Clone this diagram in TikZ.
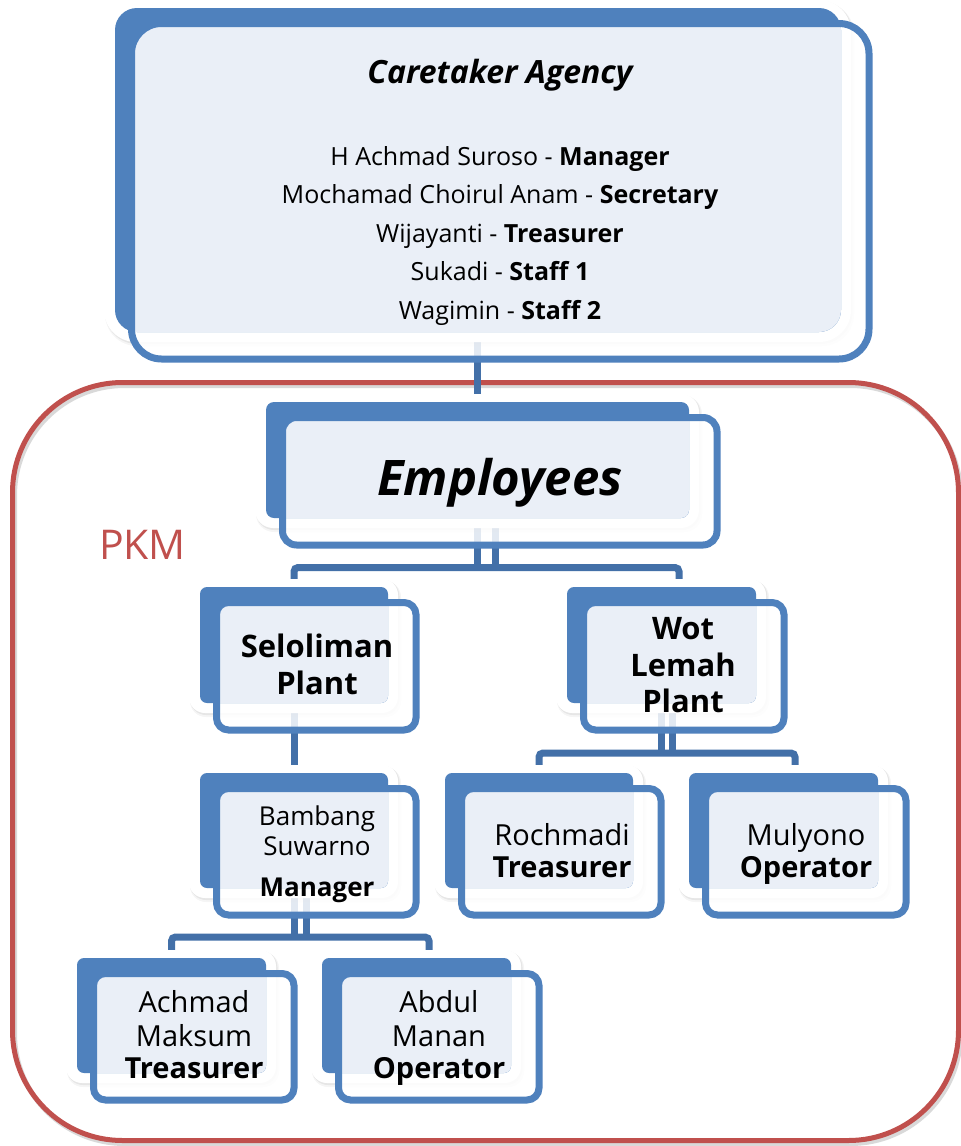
\documentclass[tikz,border=0pt]{standalone}
\usepackage{fontspec}
\setmainfont{Open Sans}
\usetikzlibrary{calc}
\definecolor{boxblue}{RGB}{79,129,189}
\definecolor{lightfill}{RGB}{234,239,247}
\definecolor{connblue}{RGB}{67,112,168}
\definecolor{pkmred}{RGB}{192,80,77}
\pgfdeclarelayer{bg}
\pgfdeclarelayer{conn}
\pgfsetlayers{bg,conn,main}
% #1 name, #2 x1, #3 y1, #4 x2, #5 y2 (back rectangle), #6 back radius, #7 front radius, #8 halo radius
\newcommand{\orgbox}[8]{%
  \fill[black,opacity=0.04,rounded corners=#8pt] (#2-10,#3-6) rectangle (#4+13,#5+14);
  \fill[black,opacity=0.06,rounded corners=#8pt] (#2-10,#3-7) rectangle (#4+11.5,#5+12);
  \fill[white,rounded corners=#8pt] (#2-11,#3-8) rectangle (#4+10,#5+10);
  \fill[white,opacity=0.85,rounded corners=#7pt] (#2+16.5,#3+15.5) rectangle (#4+28,#5+27);
  \fill[boxblue,rounded corners=#6pt] (#2,#3) rectangle (#4,#5);
  \begin{scope}
    \clip[rounded corners=#6pt] (#2,#3) rectangle (#4,#5);
    \fill[lightfill,rounded corners=#7pt] (#2+16.5,#3+15.5) rectangle (#4+28,#5+27);
  \end{scope}
  \draw[boxblue,line width=7pt,rounded corners=#7pt] (#2+16.5,#3+15.5) rectangle (#4+28,#5+27);
  \coordinate (#1-n) at ({(#2+#4)/2},#3-8);
  \coordinate (#1-s) at ({(#2+#4)/2},#5+27);
}
\tikzset{
  txt/.style={inner sep=0pt,anchor=base,text=black},
  conn/.style={draw=connblue,line width=7pt,rounded corners=4pt},
  fmem/.style={font=\fontsize{25}{30}\selectfont},
  fsmall/.style={font=\fontsize{29}{34}\selectfont},
  fsmallb/.style={font=\fontsize{29}{34}\selectfont\bfseries},
  fplant/.style={font=\fontsize{31}{36}\selectfont\bfseries},
  fbam/.style={font=\fontsize{26}{30}\selectfont},
}
\begin{document}
\begin{tikzpicture}[x=1pt,y=-1pt]
\useasboundingbox (0,0) rectangle (961,1146);
% PKM frame
\begin{pgfonlayer}{bg}
  \fill[white] (0,0) rectangle (961,1146);
  \draw[black,opacity=0.15,line width=5pt,rounded corners=110pt] (14.5,385.5) rectangle (960.5,1143.5);
  \draw[pkmred,line width=5pt,rounded corners=110pt] (12.5,382.5) rectangle (958.5,1140.5);
\end{pgfonlayer}
\node[inner sep=0pt,anchor=base,text=pkmred,font=\fontsize{41}{46}\selectfont] (pkm) at (142.5,559) {PKM};

% boxes
\orgbox{care}{115}{8}{841}{332}{22}{30}{32}
\orgbox{emp}{266}{402}{689}{518}{8}{14}{18}
\orgbox{sel}{200}{587}{388}{703}{7}{12}{16}
\orgbox{wot}{567}{587}{756}{703}{7}{12}{16}
\orgbox{bam}{200}{773}{388}{888}{7}{12}{16}
\orgbox{roch}{445}{773}{633}{888}{7}{12}{16}
\orgbox{mul}{689}{773}{878}{888}{7}{12}{16}
\orgbox{ach}{77}{958}{266}{1073}{7}{12}{16}
\orgbox{abd}{322}{958}{511}{1073}{7}{12}{16}

% texts
\node[txt,font=\fontsize{32}{36}\selectfont\bfseries\itshape] (caretitle) at (500,83) {Caretaker Agency};
\node[txt,fmem] (m1) at (500,165) {H Achmad Suroso - \textbf{Manager}};
\node[txt,fmem] (m2) at (500,203.5) {Mochamad Choirul Anam - \textbf{Secretary}};
\node[txt,fmem] (m3) at (500,242) {Wijayanti - \textbf{Treasurer}};
\node[txt,fmem] (m4) at (500,280.5) {Sukadi - \textbf{Staff 1}};
\node[txt,fmem] (m5) at (500,319) {Wagimin - \textbf{Staff 2}};
\node[txt,font=\fontsize{49}{54}\selectfont\bfseries\itshape] (emptxt) at (500,495) {Employees};
\node[txt,fplant] (sel1) at (317,657) {Seloliman};
\node[txt,fplant] (sel2) at (317,694) {Plant};
\node[txt,fplant] (wot1) at (683,639) {Wot};
\node[txt,fplant] (wot2) at (683,676) {Lemah};
\node[txt,fplant] (wot3) at (683,712) {Plant};
\node[txt,fbam] (bam1) at (317,825) {Bambang};
\node[txt,fbam] (bam2) at (317,855) {Suwarno};
\node[txt,fbam,font=\fontsize{26}{30}\selectfont\bfseries] (bam3) at (317,896) {Manager};
\node[txt,fsmall] (roch1) at (562,845) {Rochmadi};
\node[txt,fsmallb] (roch2) at (562,877) {Treasurer};
\node[txt,fsmall] (mul1) at (806,845) {Mulyono};
\node[txt,fsmallb] (mul2) at (806,877) {Operator};
\node[txt,fsmall] (ach1) at (194,1012) {Achmad};
\node[txt,fsmall] (ach2) at (194,1046) {Maksum};
\node[txt,fsmallb] (ach3) at (194,1078) {Treasurer};
\node[txt,fsmall] (abd1) at (439,1012) {Abdul};
\node[txt,fsmall] (abd2) at (439,1046) {Manan};
\node[txt,fsmallb] (abd3) at (439,1078) {Operator};

% connectors
\begin{pgfonlayer}{conn}
  \draw[conn] ($(emp-n |- care-s)+(0,-20)$) -- ($(emp-n)+(0,8)$);
  % employees
  \coordinate (empbar) at ($(emp-s)+(0,22.5)$);
  \draw[conn] ($(emp-n |- emp-s)+(0,-25)$) -- (emp-n |- empbar);
  \draw[conn] ($(emp-n |- emp-s)+(18,-25)$) -- ($(emp-n |- empbar)+(18,0)$);
  \draw[conn] ($(sel-n)+(0,10)$) -- (sel-n |- empbar) -- ($(wot-n |- empbar)+(17.5,0)$) -- ($(wot-n)+(17.5,10)$);
  % seloliman
  \draw[conn] ($(sel-n |- sel-s)+(0,-22)$) -- ($(bam-n)+(0,10)$);
  % wot lemah
  \coordinate (wotbar) at ($(wot-s)+(0,23)$);
  \draw[conn] ($(wot-n |- wot-s)+(0,-25)$) -- (wot-n |- wotbar);
  \draw[conn] ($(wot-n |- wot-s)+(10.5,-25)$) -- ($(wot-n |- wotbar)+(10.5,0)$);
  \draw[conn] ($(roch-n)+(0,10)$) -- (roch-n |- wotbar) -- ($(mul-n |- wotbar)+(11.5,0)$) -- ($(mul-n)+(11.5,10)$);
  % bambang
  \coordinate (bambar) at ($(bam-s)+(0,22)$);
  \draw[conn] ($(bam-n |- bam-s)+(0,-25)$) -- (bam-n |- bambar);
  \draw[conn] ($(bam-n |- bam-s)+(12,-25)$) -- ($(bam-n |- bambar)+(12,0)$);
  \draw[conn] ($(ach-n)+(0,10)$) -- (ach-n |- bambar) -- ($(abd-n |- bambar)+(12.5,0)$) -- ($(abd-n)+(12.5,10)$);
\end{pgfonlayer}
\end{tikzpicture}
\end{document}
